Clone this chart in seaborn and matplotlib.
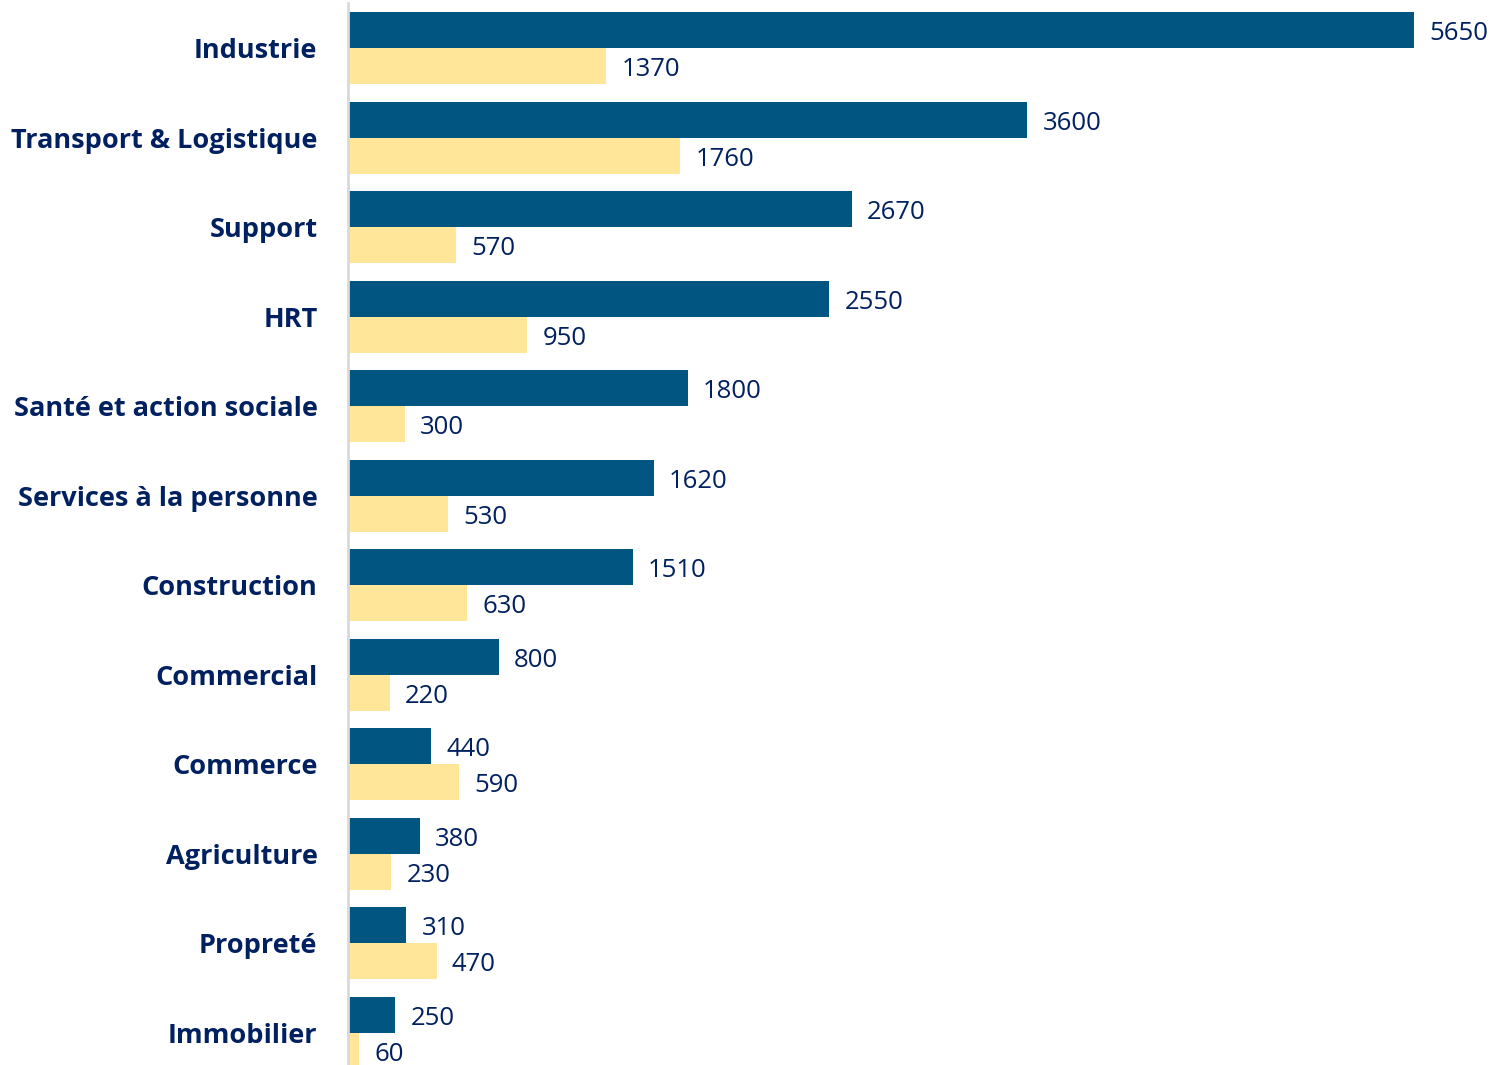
import matplotlib
matplotlib.use("Agg")
import matplotlib.pyplot as plt
import seaborn as sns
import pandas as pd

categories = ["Industrie", "Transport & Logistique", "Support", "HRT",
              "Santé et action sociale", "Services à la personne", "Construction",
              "Commercial", "Commerce", "Agriculture", "Propreté", "Immobilier"]
serie_1 = [5650, 3600, 2670, 2550, 1800, 1620, 1510, 800, 440, 380, 310, 250]
serie_2 = [1370, 1760, 570, 950, 300, 530, 630, 220, 590, 230, 470, 60]
series_names = ["Série 1", "Série 2"]

df = pd.DataFrame({
    "cat": categories * 2,
    "val": serie_1 + serie_2,
    "serie": [series_names[0]] * len(categories) + [series_names[1]] * len(categories),
})

sns.set_style("white")
plt.rcParams['font.family'] = ['Open Sans', 'DejaVu Sans']

W, H = 1494, 1065
fig = plt.figure(figsize=(W / 100, H / 100), dpi=100)
ax = fig.add_axes([348 / W, 0, (W - 348) / W, 1062 / H])

navy = "#002060"
sns.barplot(data=df, y="cat", x="val", hue="serie", order=categories,
            hue_order=series_names, palette=["#005581", "#FFE699"],
            width=0.804, saturation=1, legend=False, ax=ax, orient="h",
            linewidth=0, edgecolor="none")

for c in ax.containers:
    texts = ax.bar_label(c, padding=11, fontsize=18.5, color=navy)
    for t in texts:
        t.xyann = (11, -2.5)

ax.set_xlim(0, 1146 / 0.18867)
ax.set_ylim(11.357, -0.5025)
ax.set_xlabel("")
ax.set_ylabel("")
ax.set_xticks([])
for s in ["top", "right", "bottom"]:
    ax.spines[s].set_visible(False)
ax.spines["left"].set_color("#D9D9D9")
ax.spines["left"].set_linewidth(2)
ax.tick_params(axis="y", length=0, pad=22)
for lbl in ax.get_yticklabels():
    lbl.set_fontweight("bold")
    lbl.set_fontsize(19.5)
    lbl.set_color(navy)

fig.savefig("out.png", dpi=100)
